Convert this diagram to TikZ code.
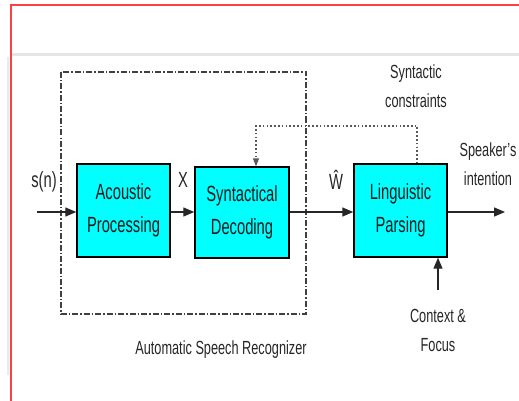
\documentclass[tikz,border=0pt]{standalone}
\usepackage{fontspec}
\setmainfont{Liberation Sans}[FakeStretch=0.67]
\usepackage{tikz}
\usetikzlibrary{positioning,arrows.meta}
\definecolor{aqua}{RGB}{0,255,255}

\begin{document}
\begin{tikzpicture}[x=1pt,y=-1pt,
  block/.style={draw=black,line width=1.4pt,fill=aqua,minimum width=93pt,minimum height=93pt,
    align=center,inner sep=0pt,text=black!90,font=\fontsize{22}{33}\selectfont},
  lbl/.style={align=center,inner sep=0pt,text=black!85,font=\fontsize{19}{29}\selectfont},
  sig/.style={inner sep=0pt,text=black!85,font=\fontsize{22}{26}\selectfont},
  flow/.style={line width=1.3pt,draw=black!85,-{Triangle[length=11pt,width=9pt]}},
  constraint/.style={line width=1.1pt,draw=black!65,dash pattern=on 1.6pt off 2.2pt,-{Triangle[length=8pt,width=6pt]}}]
\useasboundingbox (0,0) rectangle (519,401);
% page frame
\draw [red!75,line width=2pt] (519,5) -- (11,5) -- (11,401);
\draw [black!10,line width=3pt] (12,55) -- (519,55);
\draw [black!8,line width=2pt] (8,57) -- (8,375);
% recognizer frame
\draw [black!75,line width=1.1pt,dash pattern=on 6pt off 2pt on 1.5pt off 2pt] (61,72) rectangle (306,314);
\node [lbl] (asr) at (221,350) {Automatic Speech Recognizer};
% blocks
\node [block] (acoustic) at (123.5,210.5) {Acoustic\\Processing};
\node [block,minimum width=94pt,minimum height=91pt] (syntactical) at (242,212.5) {Syntactical\\Decoding};
\node [block] (linguistic) at (400.5,210.5) {Linguistic\\Parsing};
% signals
\coordinate (in) at (37,212);
\coordinate (out) at (505,212);
\coordinate (dtop) at (256,126);
\coordinate (ctx) at (438,290);
\draw [flow] (in) -- (in -| acoustic.west);
\draw [flow] (acoustic.east |- 0,212) -- (syntactical.west |- 0,212);
\draw [flow] (syntactical.east |- 0,212) -- (linguistic.west |- 0,212);
\draw [flow] (linguistic.east |- out) -- (out);
\draw [constraint] ([xshift=16.5pt]linguistic.north) |- (dtop) -- (dtop |- syntactical.north);
\draw [flow] (ctx) -- (ctx |- linguistic.south);
% labels
\node [sig] (sn) at (44,182) {s(n)};
\node [sig] (x) at (183,180) {X};
\node [sig] (w) at (336,180) {\^W};
\node [lbl] (syn) at (416,86) {Syntactic\\constraints};
\node [lbl] (spk) at (488,164) {Speaker's\\intention};
\node [lbl] (cf) at (438,330) {Context \&\\Focus};
\end{tikzpicture}
\end{document}
